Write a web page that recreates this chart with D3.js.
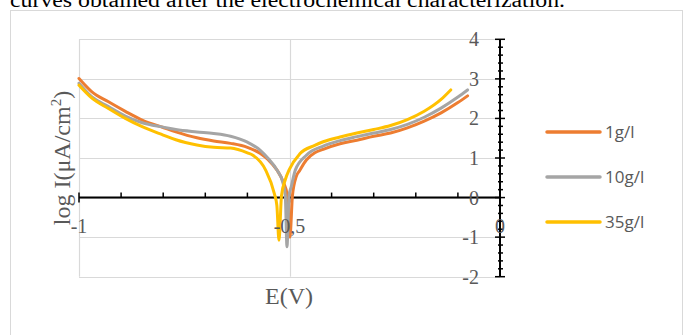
<!DOCTYPE html>
<html>
<head>
<meta charset="utf-8">
<script src="https://cdn.jsdelivr.net/npm/d3@7"></script>
<style>
  body { margin: 0; background: #fff; }
  svg { display: block; }
</style>
</head>
<body>
<svg id="chart" width="686" height="335"></svg>
<script>
const svg = d3.select('#chart')
const gridColor = '#d9d9d9'
const textColor = '#595959'

// series names and colours
const seriesNames = ['1g/l', '10g/l', '35g/l']
const seriesColors = ['#ed7d31', '#a5a5a5', '#ffc000']

// E(V) and log I values
const orangeE = [-1.00, -0.97, -0.93, -0.89, -0.85, -0.80, -0.77, -0.72, -0.68, -0.64, -0.60, -0.57, -0.55, -0.53, -0.515, -0.505, -0.499, -0.493, -0.484, -0.476, -0.46, -0.44, -0.42, -0.38, -0.34, -0.30, -0.26, -0.22, -0.18, -0.14, -0.10, -0.077]
const orangeLogI = [3.01, 2.68, 2.42, 2.18, 1.96, 1.77, 1.66, 1.51, 1.43, 1.37, 1.27, 1.12, 0.95, 0.70, 0.40, 0.05, -1.00, 0.05, 0.53, 0.68, 0.95, 1.13, 1.22, 1.36, 1.45, 1.55, 1.63, 1.76, 1.93, 2.14, 2.40, 2.57]

const grayE = [-1.00, -0.97, -0.93, -0.89, -0.85, -0.80, -0.77, -0.72, -0.68, -0.64, -0.60, -0.57, -0.55, -0.53, -0.515, -0.510, -0.506, -0.501, -0.496, -0.486, -0.46, -0.42, -0.38, -0.34, -0.30, -0.26, -0.22, -0.18, -0.14, -0.10, -0.077]
const grayLogI = [2.89, 2.55, 2.30, 2.06, 1.89, 1.78, 1.72, 1.66, 1.62, 1.55, 1.40, 1.20, 0.98, 0.70, 0.35, 0.05, -1.24, 0.05, 0.27, 0.70, 1.07, 1.30, 1.44, 1.54, 1.63, 1.72, 1.85, 2.03, 2.26, 2.54, 2.72]

const yellowE = [-1.00, -0.97, -0.93, -0.89, -0.85, -0.80, -0.77, -0.72, -0.68, -0.64, -0.60, -0.587, -0.557, -0.536, -0.530, -0.525, -0.519, -0.510, -0.50, -0.476, -0.44, -0.42, -0.38, -0.34, -0.30, -0.26, -0.22, -0.18, -0.14, -0.117]
const yellowLogI = [2.84, 2.52, 2.25, 2.00, 1.79, 1.58, 1.46, 1.33, 1.27, 1.25, 1.13, 1.07, 0.70, 0.10, -0.20, -1.08, 0.05, 0.45, 0.72, 1.10, 1.32, 1.41, 1.53, 1.63, 1.72, 1.82, 1.97, 2.18, 2.48, 2.72]

// axis tick labels
const xTickValues = [-1, -0.5, 0]
const xTickLabels = ['-1', '-0,5', '0']
const yTickValues = [-2, -1, 0, 1, 2, 3, 4]

const series = [
	[orangeE, orangeLogI],
	[grayE, grayLogI],
	[yellowE, yellowLogI]
].map(([es, vs], i) => ({
	name: seriesNames[i],
	color: seriesColors[i],
	points: es.map((e, j) => ({ e: e, v: vs[j] }))
}))

// frame around the chart
svg.append('rect')
	.attr('x', 10.5).attr('y', 10.5)
	.attr('width', 672).attr('height', 340)
	.attr('fill', 'none')
	.attr('stroke', gridColor)

// caption line, cut off at the top like in the source page
svg.append('text')
	.attr('x', 10).attr('y', 7)
	.attr('font-family', '"Liberation Serif", "DejaVu Serif", serif')
	.attr('font-size', 20)
	.attr('textLength', 555)
	.attr('lengthAdjust', 'spacingAndGlyphs')
	.attr('fill', '#000')
	.text('curves obtained after the electrochemical characterization.')

const xScale = d3.scaleLinear()
	.domain([-1, 0])
	.range([79, 500])

const yScale = d3.scaleLinear()
	.domain([-2, 4])
	.range([276.7, 39.3])

// horizontal grid
svg.append('g')
	.selectAll('line')
	.data(yTickValues)
	.enter()
	.append('line')
		.attr('x1', xScale(-1)).attr('x2', xScale(0))
		.attr('y1', d => Math.round(yScale(d)) + 0.5)
		.attr('y2', d => Math.round(yScale(d)) + 0.5)
		.attr('stroke', gridColor)
		.attr('stroke-width', 1.2)

// vertical grid
svg.append('g')
	.selectAll('line')
	.data([-1, -0.5])
	.enter()
	.append('line')
		.attr('x1', d => Math.round(xScale(d)) + 0.5)
		.attr('x2', d => Math.round(xScale(d)) + 0.5)
		.attr('y1', yScale(4)).attr('y2', yScale(-2))
		.attr('stroke', gridColor)
		.attr('stroke-width', 1.2)

// x axis along log I = 0
const xAxisG = svg.append('g')
const y0 = yScale(0)
xAxisG.append('line')
	.attr('x1', xScale(-1)).attr('x2', xScale(0))
	.attr('y1', y0).attr('y2', y0)
	.attr('stroke', '#000').attr('stroke-width', 2)
xAxisG.selectAll('line.minor')
	.data(d3.range(-1, 0.001, 0.1).map(d => +d.toFixed(1)))
	.enter()
	.append('line')
		.attr('class', 'minor')
		.attr('x1', d => xScale(d)).attr('x2', d => xScale(d))
		.attr('y1', d => xTickValues.includes(d) ? y0 + 5 : y0)
		.attr('y2', y0 - 5)
		.attr('stroke', '#000').attr('stroke-width', 1.5)

// y axis along E = 0
const yAxisG = svg.append('g')
const x0 = xScale(0)
yAxisG.append('line')
	.attr('x1', x0).attr('x2', x0)
	.attr('y1', yScale(4)).attr('y2', yScale(-2))
	.attr('stroke', '#000').attr('stroke-width', 2)
yAxisG.selectAll('line.tick')
	.data(d3.range(-2, 4.001, 0.2).map(d => +d.toFixed(1)))
	.enter()
	.append('line')
		.attr('class', 'tick')
		.attr('x1', d => Number.isInteger(d) ? x0 - 5 : x0 - 2)
		.attr('x2', d => Number.isInteger(d) ? x0 + 5 : x0 + 3)
		.attr('y1', d => yScale(d)).attr('y2', d => yScale(d))
		.attr('stroke', '#000').attr('stroke-width', 1.5)

// curves
const line = d3.line()
	.x(d => xScale(d.e))
	.y(d => yScale(d.v))
	.curve(d3.curveMonotoneX)

svg.append('g')
	.selectAll('path')
	.data(series)
	.enter()
	.append('path')
		.attr('d', d => line(d.points))
		.attr('fill', 'none')
		.attr('stroke', d => d.color)
		.attr('stroke-width', 3)
		.attr('stroke-linejoin', 'round')
		.attr('stroke-linecap', 'round')

// tick labels
const serif = '"Liberation Serif", "DejaVu Serif", serif'
svg.append('g')
	.selectAll('text')
	.data(xTickValues)
	.enter()
	.append('text')
		.attr('x', d => xScale(d))
		.attr('y', 233)
		.attr('text-anchor', 'middle')
		.attr('font-family', serif)
		.attr('font-size', 20)
		.attr('fill', textColor)
		.text((d, i) => xTickLabels[i])

svg.append('g')
	.selectAll('text')
	.data(yTickValues)
	.enter()
	.append('text')
		.attr('x', 479)
		.attr('y', d => yScale(d) + 7)
		.attr('text-anchor', 'end')
		.attr('font-family', serif)
		.attr('font-size', 20)
		.attr('fill', textColor)
		.text(d => d)

// axis titles
svg.append('text')
	.attr('x', 289).attr('y', 304)
	.attr('text-anchor', 'middle')
	.attr('font-family', serif)
	.attr('font-size', 24)
	.attr('fill', textColor)
	.text('E(V)')

svg.append('text')
	.attr('transform', 'translate(70, 158) rotate(-90)')
	.attr('text-anchor', 'middle')
	.attr('font-family', serif)
	.attr('font-size', 24)
	.attr('fill', textColor)
	.html('log I(μA/cm<tspan dy="-9" font-size="15">2</tspan><tspan dy="9">)</tspan>')

// legend
const legend = svg.append('g')
	.selectAll('g')
	.data(series)
	.enter()
	.append('g')
		.attr('transform', (d, i) => `translate(547, ${132 + i * 45})`)
legend.append('line')
	.attr('x1', 0).attr('x2', 53)
	.attr('stroke', d => d.color)
	.attr('stroke-width', 3.5)
	.attr('stroke-linecap', 'round')
legend.append('text')
	.attr('x', 58).attr('y', 6)
	.attr('font-family', '"Open Sans", "Noto Sans", sans-serif')
	.attr('font-size', 17)
	.attr('fill', textColor)
	.text(d => d.name)
</script>
</body>
</html>
